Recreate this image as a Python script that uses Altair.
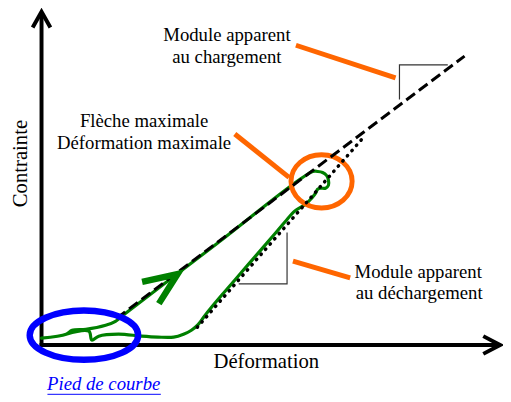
import altair as alt
import pandas as pd

FONT = "Liberation Serif, Times New Roman, serif"
GREEN = "#008000"
ORANGE = "#ff6600"
BLUE = "#0000ff"

# ---- data (Déformation on x, Contrainte on y; origin at the axes corner) ----
# green loading / unloading loop
curve_x = [0, 25, 31, 45, 65, 75, 85, 178, 275, 280,
           285, 289, 291, 291, 288, 283, 280, 278, 274, 268,
           257, 247, 236, 223, 210, 197, 184, 173, 165, 159,
           152, 144, 134, 118, 101, 78, 58, 51, 48, 25]
curve_y = [7, 11, 15, 16, 20, 24, 32, 103, 176, 176,
           175, 172, 167, 162, 159, 159, 158, 154, 149, 143,
           136, 125, 112, 97, 82, 67, 52, 39, 29, 21,
           15, 11, 8, 8, 9, 11, 9, 5, 14, 11]

# apparent modulus on loading (dashed) and unloading (dotted)
load_mod_x = [76, 429]
load_mod_y = [27, 293]
unload_mod_x = [158, 326]
unload_mod_y = [18, 210]

# slope triangles
tri_load_x = [363, 363, 412]
tri_load_y = [249, 284, 284]
tri_unload_x = [249, 249, 200]
tri_unload_y = [114, 62, 62]

# orange leader lines (start, end) x3
leader_x = [258, 359, 196, 251, 255, 313]
leader_y = [304, 271, 214, 170, 85, 68]
leader_g = [1, 1, 2, 2, 3, 3]

# highlighted zones (centres)
zone_max = (284, 166)
zone_foot = (43, 10)

# green direction arrow
dir_x = [102, 138, 119]
dir_y = [64, 72, 42]

# axes
yaxis_x = [0, 0]
yaxis_y = [-2, 335]
yhead_x = [-9, 0, 9]
yhead_y = [322, 338, 322]
xaxis_x = [-2, 463]
xaxis_y = [0, 0]
xhead_x = [448, 465, 448]
xhead_y = [9, 0, -9]

labels = ["Module apparent", "au chargement",
          "Flèche maximale", "Déformation maximale",
          "Module apparent", "au déchargement"]
labels_x = [188, 188, 104, 104, 382, 383]
labels_y = [308, 286, 221, 199, 68, 47]

xs = alt.Scale(domain=[-34, 468], nice=False, zero=False)
ys = alt.Scale(domain=[-53, 339], nice=False, zero=False)
X = lambda f="x": alt.X(f + ":Q", scale=xs, axis=None)
Y = lambda f="y": alt.Y(f + ":Q", scale=ys, axis=None)


def poly(xv, yv, groups=None):
    return pd.DataFrame({"x": xv, "y": yv, "o": list(range(len(xv))),
                         "g": groups if groups is not None else [0] * len(xv)})


def line(df, color, width, dash=None, cap="butt", interp="linear", join="miter"):
    kw = dict(color=color, strokeWidth=width, strokeCap=cap, strokeJoin=join,
              interpolate=interp, clip=False)
    if dash is not None:
        kw["strokeDash"] = dash
    return alt.Chart(df).mark_line(**kw).encode(x=X(), y=Y(), order="o:Q", detail="g:N")


def ellipse(center, rx, ry, color, width):
    r = ry / rx
    path = f"M-1,0A1,{r:.4f},0,1,1,1,0A1,{r:.4f},0,1,1,-1,0Z"
    df = pd.DataFrame({"x": [center[0]], "y": [center[1]]})
    return alt.Chart(df).mark_point(shape=path, size=(2 * rx) ** 2, filled=False,
                                    stroke=color, strokeWidth=width, opacity=1).encode(x=X(), y=Y())


axes = [
    line(poly(yaxis_x, yaxis_y), "black", 4),
    line(poly(yhead_x, yhead_y), "black", 4),
    line(poly(xaxis_x, xaxis_y), "black", 4),
    line(poly(xhead_x, xhead_y), "black", 4),
]

curve = line(poly(curve_x, curve_y), GREEN, 3.2, interp="catmull-rom", join="round", cap="round")
ring_max = ellipse(zone_max, 31, 27, ORANGE, 5)
dashed = line(poly(load_mod_x, load_mod_y), "black", 3, dash=[11, 5])
dotted = line(poly(unload_mod_x, unload_mod_y), "black", 3.5, dash=[0.5, 6.5], cap="round")
tris = [line(poly(tri_load_x, tri_load_y), "#333333", 1.2),
        line(poly(tri_unload_x, tri_unload_y), "#333333", 1.2)]
leaders = line(poly(leader_x, leader_y, leader_g), ORANGE, 5)
arrow = line(poly(dir_x, dir_y), GREEN, 6.5)
ring_foot = ellipse(zone_foot, 55, 25, BLUE, 6.5)

txt = alt.Chart(pd.DataFrame({"x": labels_x, "y": labels_y, "t": labels})).mark_text(
    font=FONT, fontSize=19, align="center", baseline="alphabetic", color="black"
).encode(x=X(), y=Y(), text="t:N")

xtitle = alt.Chart(pd.DataFrame({"x": [228], "y": [-23], "t": ["Déformation"]})).mark_text(
    font=FONT, fontSize=21, align="center", baseline="alphabetic", color="black"
).encode(x=X(), y=Y(), text="t:N")

ytitle = alt.Chart(pd.DataFrame({"x": [-15], "y": [184], "t": ["Contrainte"]})).mark_text(
    font=FONT, fontSize=21, align="center", baseline="alphabetic", color="black", angle=270
).encode(x=X(), y=Y(), text="t:N")

link = alt.Chart(pd.DataFrame({"x": [63], "y": [-46], "t": ["Pied de courbe"]})).mark_text(
    font=FONT, fontSize=19, fontStyle="italic", align="center", baseline="alphabetic", color=BLUE
).encode(x=X(), y=Y(), text="t:N")

underline = alt.Chart(pd.DataFrame({"x": [6], "x2": [121], "y": [-50]})).mark_rule(
    color=BLUE, strokeWidth=1
).encode(x=X(), x2="x2:Q", y=Y())

chart = alt.layer(
    *axes, curve, ring_max, dashed, dotted, *tris, leaders, arrow, ring_foot,
    txt, xtitle, ytitle, link, underline
).properties(
    width=502, height=392, padding=0, autosize=alt.AutoSizeParams(type="none")
).configure_view(stroke=None)

chart.save("out.html", embed_options={"renderer": "svg", "actions": False})
